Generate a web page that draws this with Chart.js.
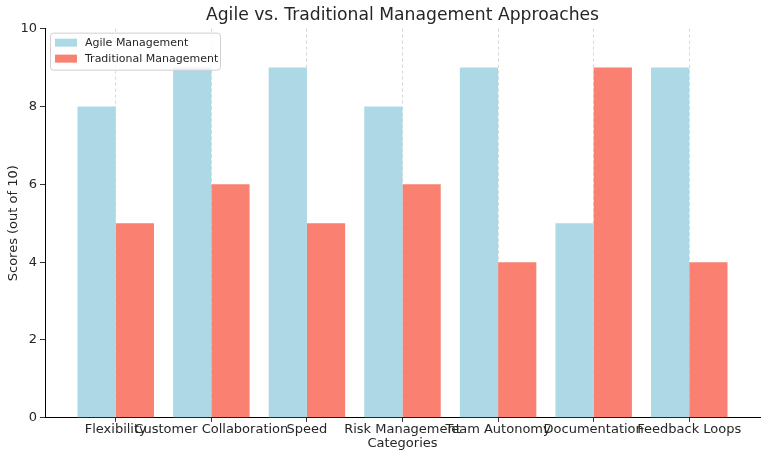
<!DOCTYPE html>
<html>
<head>
<meta charset="utf-8">
<script src="https://cdn.jsdelivr.net/npm/chart.js@4.4.0/dist/chart.umd.min.js"></script>
<style>
  html, body { margin: 0; padding: 0; background: #fff; }
  #wrap { width: 769px; height: 459px; }
</style>
</head>
<body>
<div id="wrap"><canvas id="chart"></canvas></div>
<script>
// chart data
var categories = ['Flexibility', 'Customer Collaboration', 'Speed', 'Risk Management', 'Team Autonomy', 'Documentation', 'Feedback Loops'];
var agileScores = [8, 9, 9, 8, 9, 5, 9];
var traditionalScores = [5, 6, 5, 6, 4, 9, 4];
var yTicks = [0, 2, 4, 6, 8, 10];

var textColor = '#262626';
var fontFamily = '"DejaVu Sans", sans-serif';

function toPoints(values) {
  return values.map(function (v, i) { return {x: i, y: v}; });
}

// legend box inside the plot, upper left
var insideLegend = {
  id: 'insideLegend',
  afterDraw: function (chart) {
    var ctx = chart.ctx;
    var area = chart.chartArea;
    var x = area.left + 5, y = area.top + 4, w = 170, h = 37;
    ctx.save();
    ctx.fillStyle = 'rgba(255,255,255,0.8)';
    ctx.strokeStyle = '#d0d0d0';
    ctx.lineWidth = 1;
    ctx.beginPath();
    ctx.roundRect(x + 0.5, y + 0.5, w, h, 3);
    ctx.fill();
    ctx.stroke();
    ctx.font = '11px ' + fontFamily;
    ctx.textBaseline = 'middle';
    chart.data.datasets.forEach(function (ds, i) {
      var cy = y + 10 + i * 16;
      ctx.fillStyle = ds.backgroundColor;
      ctx.fillRect(x + 5, cy - 4, 22, 8);
      ctx.fillStyle = textColor;
      ctx.fillText(ds.label, x + 35, cy + 1);
    });
    ctx.restore();
  }
};

new Chart(document.getElementById('chart'), {
  type: 'bar',
  data: {
    datasets: [
      { label: 'Agile Management', data: toPoints(agileScores), backgroundColor: '#ADD8E6' },
      { label: 'Traditional Management', data: toPoints(traditionalScores), backgroundColor: '#FA8072' }
    ]
  },
  options: {
    responsive: true,
    maintainAspectRatio: false,
    animation: false,
    layout: { padding: { left: 0, right: 9, top: 0, bottom: 8 } },
    datasets: { bar: { categoryPercentage: 0.8, barPercentage: 1.0, grouped: true } },
    plugins: {
      legend: { display: false },
      tooltip: { enabled: false },
      title: {
        display: true,
        fullSize: false,
        text: 'Agile vs. Traditional Management Approaches',
        color: textColor,
        font: { family: fontFamily, size: 17.2, weight: 'normal' },
        padding: { top: 5, bottom: 3 }
      }
    },
    scales: {
      x: {
        type: 'linear',
        offset: false,
        min: -0.74,
        max: 6.74,
        afterBuildTicks: function (scale) {
          scale.ticks = categories.map(function (c, i) { return {value: i}; });
        },
        ticks: {
          autoSkip: false,
          maxRotation: 0,
          color: textColor,
          font: { family: fontFamily, size: 13 },
          padding: 0,
          callback: function (value) { return categories[value]; }
        },
        grid: { offset: false, color: '#d8d8d8', drawTicks: true, tickLength: 4, tickColor: '#333333', tickWidth: 1 },
        border: { display: true, color: '#000000', width: 1, dash: [3, 3] },
        title: {
          display: true,
          text: 'Categories',
          color: textColor,
          font: { family: fontFamily, size: 13 },
          padding: { top: -2, bottom: 0 }
        }
      },
      y: {
        min: 0,
        max: 10,
        afterBuildTicks: function (scale) {
          scale.ticks = yTicks.map(function (v) { return {value: v}; });
        },
        afterFit: function (scale) { scale.width = 45; },
        ticks: {
          color: textColor,
          font: { family: fontFamily, size: 13 },
          padding: 3
        },
        grid: { display: true, drawOnChartArea: false, tickLength: 5, tickColor: '#333333' },
        border: { display: true, color: '#000000', width: 1 },
        title: {
          display: true,
          text: 'Scores (out of 10)',
          color: textColor,
          font: { family: fontFamily, size: 13 },
          padding: { top: 6, bottom: 0 }
        }
      }
    }
  },
  plugins: [insideLegend]
});
</script>
</body>
</html>
